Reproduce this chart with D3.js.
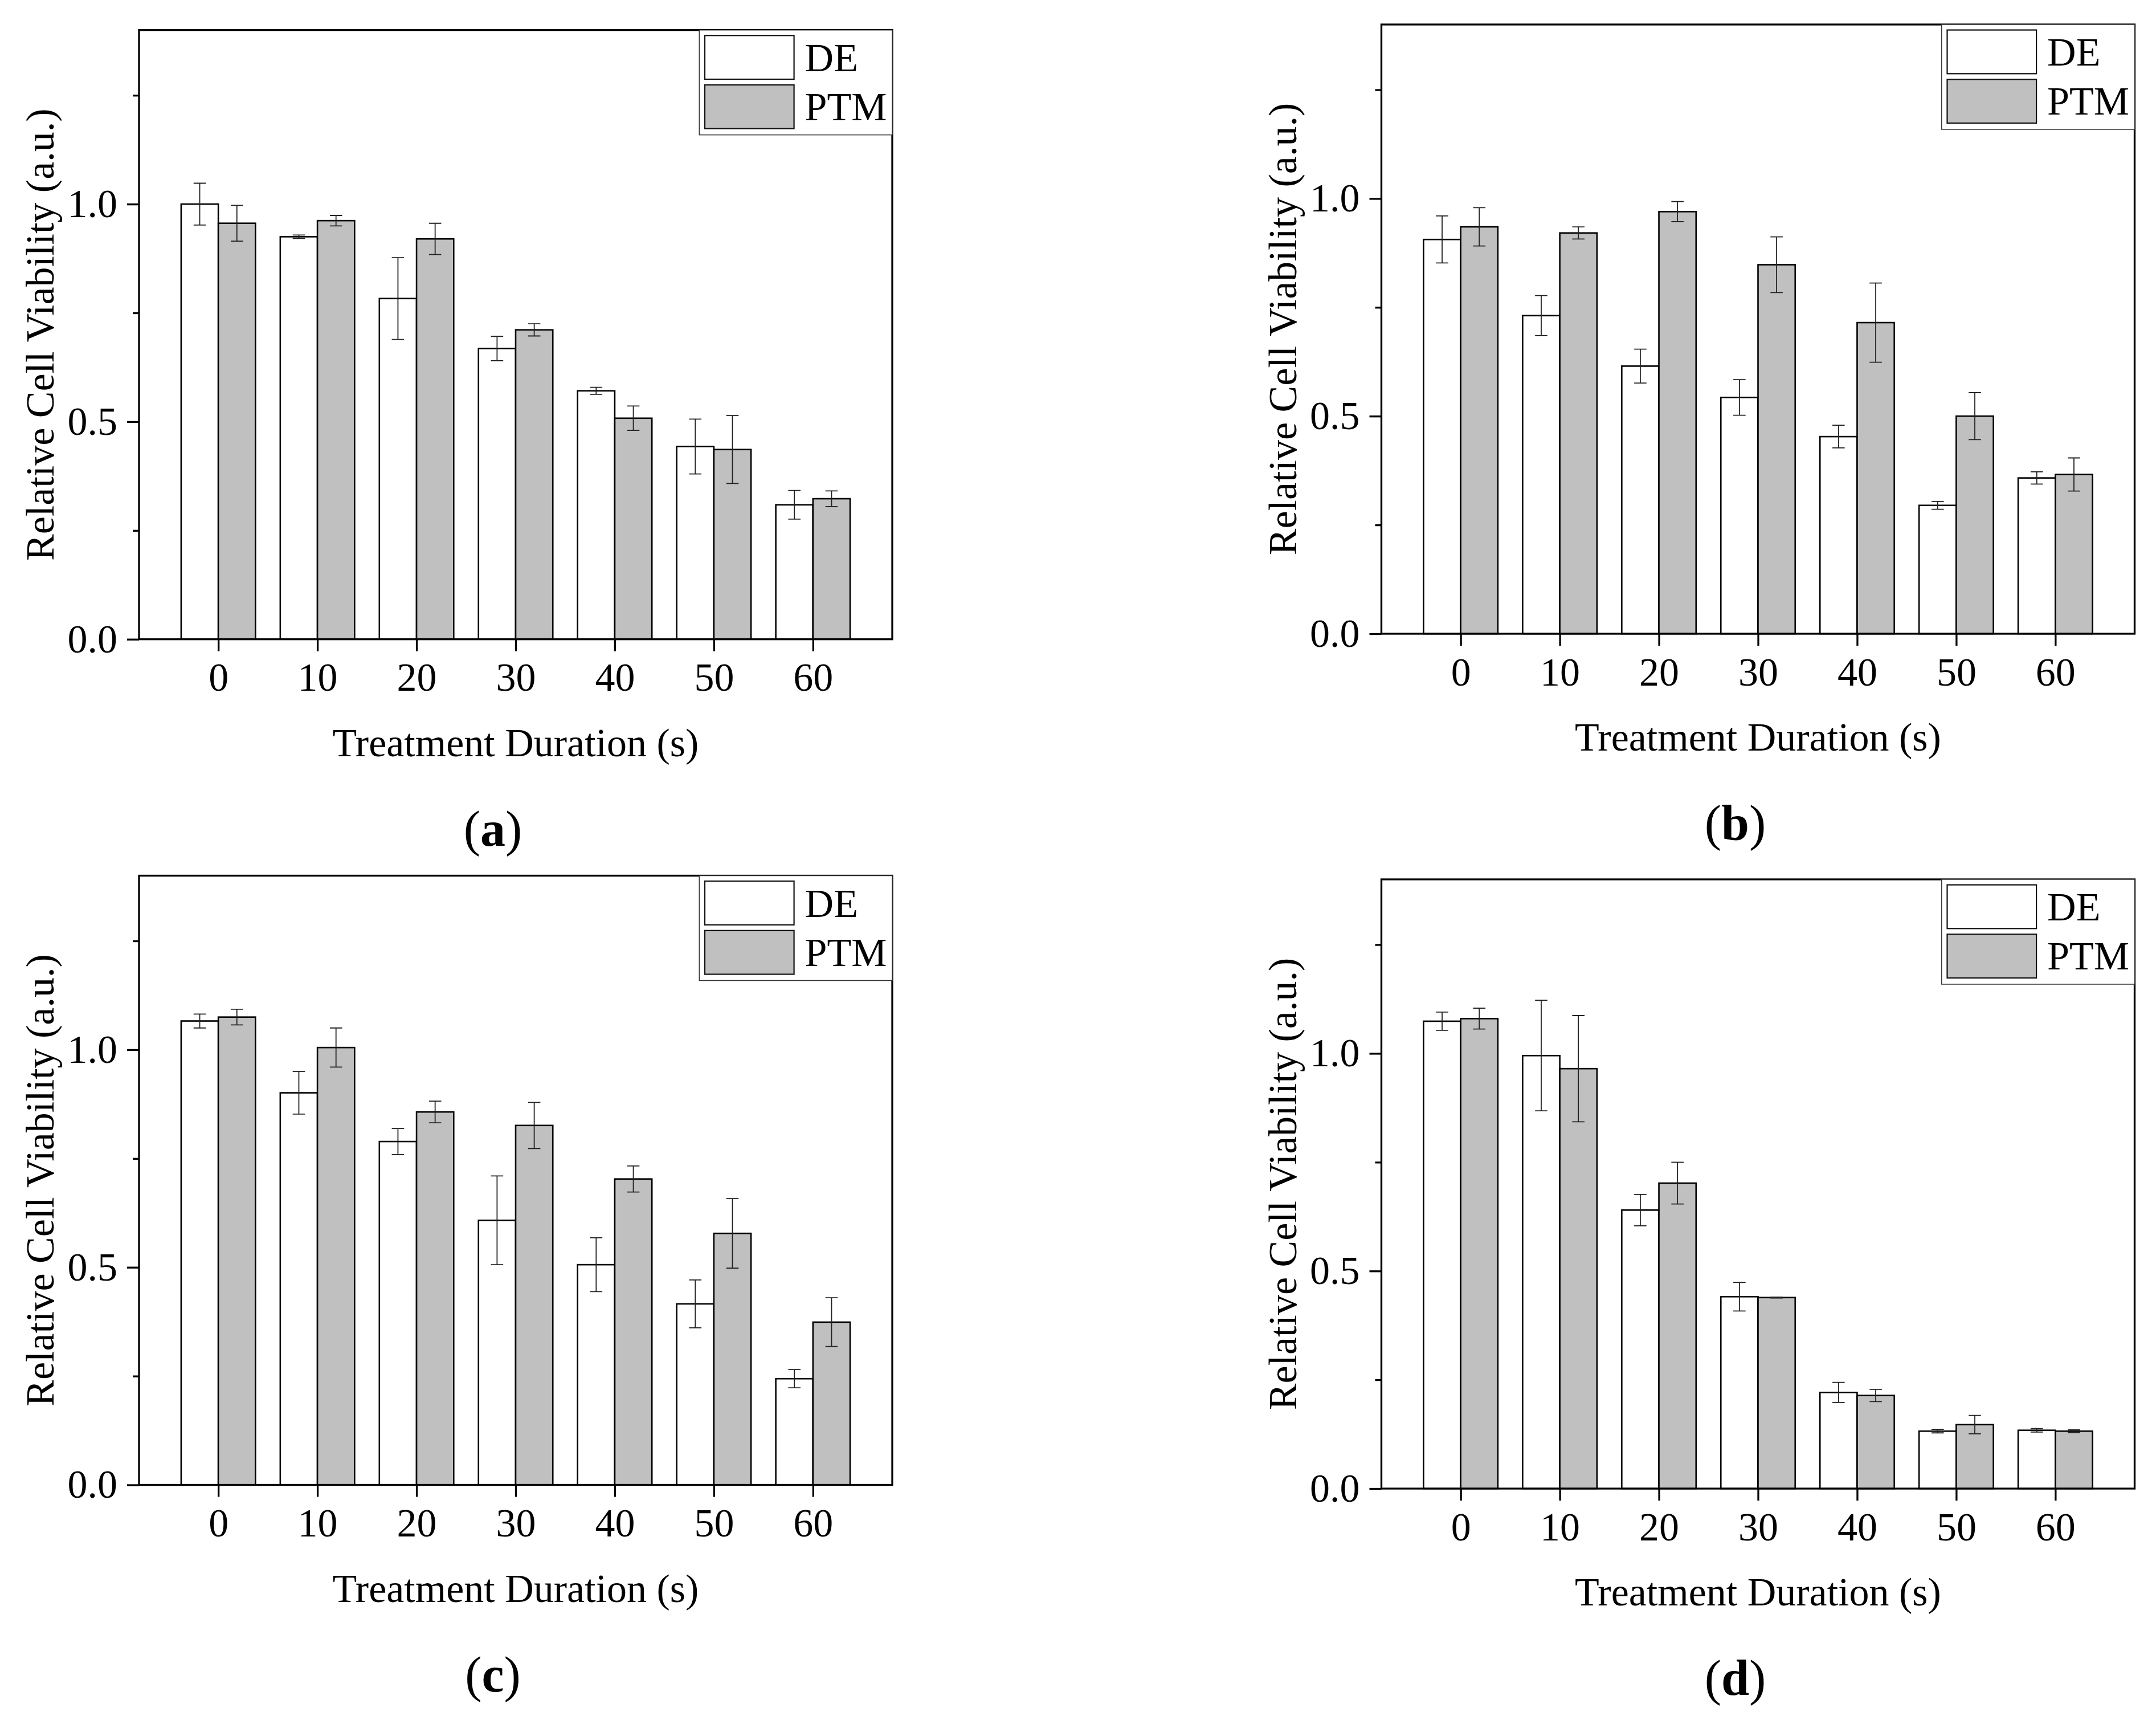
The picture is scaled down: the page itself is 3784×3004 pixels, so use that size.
<!DOCTYPE html>
<html>
<head>
<meta charset="utf-8">
<script src="https://cdn.jsdelivr.net/npm/d3@7"></script>
<style>
  body { margin: 0; background: #fff; }
  svg { display: block; }
</style>
</head>
<body>
<svg id="chart" width="3784" height="3004"></svg>
<script>
// values
const durations = ["0", "10", "20", "30", "40", "50", "60"];
const seriesNames = ["DE", "PTM"];
const yMajorTicks = [0, 0.5, 1.0];
const yMinorTicks = [0.25, 0.75, 1.25];
const panelLetters = ["a", "b", "c", "d"];

const deA = [1.000, 0.925, 0.783, 0.668, 0.571, 0.443, 0.309];
const deAErr = [0.048, 0.004, 0.094, 0.028, 0.008, 0.063, 0.033];
const ptmA = [0.956, 0.962, 0.920, 0.711, 0.508, 0.436, 0.323];
const ptmAErr = [0.041, 0.012, 0.036, 0.014, 0.028, 0.078, 0.018];

const deB = [0.906, 0.731, 0.615, 0.543, 0.453, 0.295, 0.358];
const deBErr = [0.054, 0.046, 0.039, 0.041, 0.026, 0.009, 0.014];
const ptmB = [0.935, 0.921, 0.970, 0.848, 0.715, 0.500, 0.366];
const ptmBErr = [0.044, 0.014, 0.023, 0.064, 0.091, 0.054, 0.038];

const deC = [1.066, 0.901, 0.789, 0.608, 0.506, 0.416, 0.244];
const deCErr = [0.016, 0.049, 0.030, 0.102, 0.062, 0.055, 0.021];
const ptmC = [1.075, 1.005, 0.857, 0.826, 0.703, 0.578, 0.374];
const ptmCErr = [0.018, 0.045, 0.025, 0.053, 0.030, 0.080, 0.056];

const deD = [1.074, 0.995, 0.640, 0.441, 0.221, 0.132, 0.134];
const deDErr = [0.021, 0.127, 0.036, 0.033, 0.023, 0.004, 0.004];
const ptmD = [1.080, 0.965, 0.702, 0.439, 0.214, 0.147, 0.132];
const ptmDErr = [0.024, 0.122, 0.048, 0.001, 0.014, 0.021, 0.003];

const fills = ["#ffffff", "#c0c0c0"];
const font = "'Liberation Serif', 'Times New Roman', serif";
const fs = 70;
const W = 1322, H = 1069;

const svg = d3.select("#chart");
svg.append("rect").attr("width", 3784).attr("height", 3004).attr("fill", "#fff");

const panels = [
  {left: 244, top: 52.7, de: deA, deErr: deAErr, ptm: ptmA, ptmErr: ptmAErr},
  {left: 2424.5, top: 43, de: deB, deErr: deBErr, ptm: ptmB, ptmErr: ptmBErr},
  {left: 244, top: 1536.5, de: deC, deErr: deCErr, ptm: ptmC, ptmErr: ptmCErr},
  {left: 2424.5, top: 1543, de: deD, deErr: deDErr, ptm: ptmD, ptmErr: ptmDErr}
];

function drawPanel(p, letter) {
  const g = svg.append("g").attr("transform", `translate(${p.left},${p.top})`)
    .attr("font-family", font);

  const x = d3.scalePoint().domain(durations).range([0, W]).padding(0.8);
  const y = d3.scaleLinear().domain([0, 1.4]).range([H, 0]);
  const bw = x.step() * 0.375;

  // bars
  const series = [
    {vals: p.de, errs: p.deErr, off: -bw, fill: fills[0]},
    {vals: p.ptm, errs: p.ptmErr, off: 0, fill: fills[1]}
  ];
  series.forEach(s => {
    g.append("g").selectAll("rect")
      .data(durations)
      .join("rect")
        .attr("x", (d) => x(d) + s.off)
        .attr("y", (d, i) => y(s.vals[i]))
        .attr("width", bw)
        .attr("height", (d, i) => H - y(s.vals[i]))
        .attr("fill", s.fill)
        .attr("stroke", "#000")
        .attr("stroke-width", 2.6);
  });

  // error bars
  series.forEach(s => {
    const eb = g.append("g").attr("stroke", "#222").attr("stroke-width", 1.8).attr("fill", "none");
    const cap = 10.8;
    eb.selectAll("path")
      .data(durations)
      .join("path")
        .attr("d", (d, i) => {
          const cx = x(d) + s.off + bw / 2;
          const y1 = y(s.vals[i] + s.errs[i]), y2 = y(s.vals[i] - s.errs[i]);
          return `M${cx},${y1}V${y2}M${cx - cap},${y1}H${cx + cap}M${cx - cap},${y2}H${cx + cap}`;
        });
  });

  // axes
  const xAxis = g.append("g").attr("transform", `translate(0,${H})`)
    .call(d3.axisBottom(x).tickSize(21).tickSizeOuter(0).tickPadding(20));
  const yAxis = g.append("g")
    .call(d3.axisLeft(y).tickValues(yMajorTicks).tickFormat(d3.format(".1f"))
      .tickSize(21).tickSizeOuter(0).tickPadding(17));
  const yMinor = g.append("g")
    .call(d3.axisLeft(y).tickValues(yMinorTicks).tickFormat("")
      .tickSize(11).tickSizeOuter(0));
  [xAxis, yAxis, yMinor].forEach(a => {
    a.select(".domain").remove();
    a.selectAll(".tick line").attr("stroke", "#000").attr("stroke-width", 3.3);
    a.selectAll("text").attr("font-family", font).attr("font-size", fs).attr("fill", "#000");
  });

  // frame
  g.append("rect").attr("width", W).attr("height", H)
    .attr("fill", "none").attr("stroke", "#000").attr("stroke-width", 3.3);

  // legend
  const lg = g.append("g").attr("transform", `translate(${W - 338.7},0)`);
  lg.append("rect").attr("width", 338.7).attr("height", 184)
    .attr("fill", "#fff").attr("stroke", "#333").attr("stroke-width", 1.5);
  seriesNames.forEach((name, i) => {
    lg.append("rect")
      .attr("x", 9.7).attr("y", 9.6 + i * 86.7)
      .attr("width", 156.6).attr("height", 76.7)
      .attr("fill", fills[i]).attr("stroke", "#111").attr("stroke-width", 2.2);
    lg.append("text")
      .attr("x", 185.3).attr("y", 72.3 + i * 86)
      .attr("font-size", fs).text(name);
  });

  // axis titles
  g.append("text")
    .attr("x", W / 2).attr("y", H + 205)
    .attr("text-anchor", "middle").attr("font-size", fs)
    .text("Treatment Duration (s)");
  g.append("text")
    .attr("transform", `translate(-150,${H / 2}) rotate(-90)`)
    .attr("text-anchor", "middle").attr("font-size", fs)
    .text("Relative Cell Viability (a.u.)");

  // panel caption
  const cap = g.append("text")
    .attr("x", 621).attr("y", H + 362)
    .attr("text-anchor", "middle").attr("font-size", 88);
  cap.append("tspan").text("(");
  cap.append("tspan").attr("font-weight", "bold").text(letter);
  cap.append("tspan").text(")");
}

panels.forEach((p, i) => drawPanel(p, panelLetters[i]));
</script>
</body>
</html>
